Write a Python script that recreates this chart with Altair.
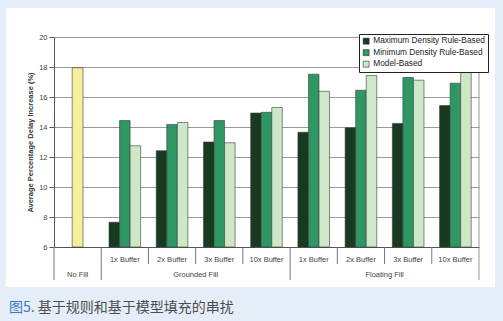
import altair as alt
import pandas as pd

FONT = "Liberation Sans"
CJK = "Noto Sans CJK SC"

series = ["Maximum Density Rule-Based", "Minimum Density Rule-Based", "Model-Based"]
groups = ["Grounded Fill"] * 4 + ["Floating Fill"] * 4
buffers = ["1x Buffer", "2x Buffer", "3x Buffer", "10x Buffer"] * 2
max_density = [7.65, 12.42, 13.0, 14.93, 13.65, 13.95, 14.24, 15.43]
min_density = [14.43, 14.17, 14.43, 14.98, 17.52, 16.45, 17.3, 16.92]
model_based = [12.75, 14.3, 12.95, 15.3, 16.38, 17.43, 17.12, 17.95]
no_fill_label = "No Fill"
no_fill_value = 17.95
y_ticks = [6, 8, 10, 12, 14, 16, 18, 20]
colors = ["#173a20", "#2e9763", "#cde8c7"]
no_fill_color = "#f5ef9c"
caption_num = "图5."
caption_text = "基于规则和基于模型填充的串扰"

keys = [no_fill_label] + [f"{g}|{b}" for g, b in zip(groups, buffers)]

rows = []
for i, (g, b) in enumerate(zip(groups, buffers)):
    for s, vals in zip(series, [max_density, min_density, model_based]):
        rows.append({"key": f"{g}|{b}", "series": s, "value": vals[i]})
bars_df = pd.DataFrame(rows)
nf_df = pd.DataFrame({"key": [no_fill_label], "value": [no_fill_value]})

xscale = alt.Scale(domain=keys, paddingInner=0, paddingOuter=0)
yscale = alt.Scale(domain=[6, 20], zero=False, nice=False)

x_axis = alt.Axis(
    title=None, ticks=False, labelAngle=0,
    labelExpr="indexof(datum.value,'|')>=0 ? split(datum.value,'|')[1] : ''",
    labelFont=FONT, labelFontSize=7.5, labelColor="#444", labelPadding=8,
    domainColor="#555", grid=False,
)
y_axis = alt.Axis(
    title="Average Percentage Delay Increase (%)", values=y_ticks,
    grid=True, gridColor="#9a9a9a", gridWidth=1,
    domainColor="#555", tickColor="#555", tickSize=5,
    labelFont=FONT, labelFontSize=7.5, labelColor="#444", labelPadding=2,
    titleFont=FONT, titleFontSize=7.5, titleFontWeight="bold", titleColor="#333",
    titlePadding=4,
)

legend = alt.Legend(
    title=None, orient="none", legendX=305, legendY=-3, direction="vertical",
    fillColor="white", strokeColor="#222", padding=3, cornerRadius=0,
    labelFont=FONT, labelFontSize=8.3, labelColor="#222", labelOffset=3,
    symbolType="square", symbolSize=36, symbolStrokeColor="#333",
    symbolStrokeWidth=0.6, rowPadding=1.5,
)

X = alt.X("key:N", scale=xscale, axis=x_axis)
Y = alt.Y("value:Q", scale=yscale, axis=y_axis)

bars = alt.Chart(bars_df).mark_bar(stroke="#3a3a3a", strokeWidth=0.6).encode(
    x=X,
    xOffset=alt.XOffset("series:N", scale=alt.Scale(domain=series, paddingInner=0, paddingOuter=0.74)),
    y=Y,
    y2=alt.datum(6),
    color=alt.Color("series:N", scale=alt.Scale(domain=series, range=colors), legend=legend),
)

nf = alt.Chart(nf_df).mark_bar(
    width=alt.RelativeBandSize(0.23), fill=no_fill_color, stroke="#3a3a3a", strokeWidth=0.6
).encode(x=X, y=Y, y2=alt.datum(6))

short_keys = [k for k in keys if k.split("|")[-1] != "1x Buffer" and k != no_fill_label]
long_keys = [no_fill_label, keys[1], keys[5]]

def xb(pos):
    return alt.X("key:N", scale=xscale, axis=x_axis, bandPosition=pos)

short_rules = alt.Chart(pd.DataFrame({"key": short_keys})).mark_rule(color="#777", strokeWidth=1).encode(
    x=xb(0), y=alt.value(210), y2=alt.value(227))
long_rules = alt.Chart(pd.DataFrame({"key": long_keys})).mark_rule(color="#777", strokeWidth=1).encode(
    x=xb(0), y=alt.value(210), y2=alt.value(243))
right_rule = alt.Chart(pd.DataFrame({"key": [keys[-1]]})).mark_rule(color="#999", strokeWidth=1).encode(
    x=xb(1), y=alt.value(0), y2=alt.value(243))

row2_nf = alt.Chart(pd.DataFrame({"key": [no_fill_label], "t": [no_fill_label]})).mark_text(
    font=FONT, fontSize=7.5, color="#444", align="center", baseline="middle").encode(
    x=xb(0.5), y=alt.value(238), text="t:N")
row2_groups = alt.Chart(pd.DataFrame({"key": [keys[3], keys[7]], "t": [groups[0], groups[4]]})).mark_text(
    font=FONT, fontSize=7.5, color="#444", align="center", baseline="middle").encode(
    x=xb(0), y=alt.value(238), text="t:N")

BLUE = "#e5eef8"
one = pd.DataFrame({"a": [0]})
def band(x, x2, y, y2):
    return alt.Chart(one).mark_rect(color=BLUE).encode(
        x=alt.value(x), x2=alt.value(x2), y=alt.value(y), y2=alt.value(y2))

frame = [band(-54, -48, -37, 284), band(441, 449, -37, 284),
         band(-54, 449, -37, -29), band(-54, 449, 250, 284)]

cap1 = alt.Chart(pd.DataFrame({"t": [caption_num]})).mark_text(
    font=CJK, fontSize=14, color="#3a7cc3", align="left", baseline="middle").encode(
    x=alt.value(-45), y=alt.value(271), text="t:N")
cap2 = alt.Chart(pd.DataFrame({"t": [caption_text]})).mark_text(
    font=CJK, fontSize=14, color="#4d4d4d", align="left", baseline="middle").encode(
    x=alt.value(-16.3), y=alt.value(271), text="t:N")

chart = alt.layer(
    bars, nf, short_rules, long_rules, right_rule, row2_nf, row2_groups, *frame, cap1, cap2
).properties(
    width=425, height=210, background="white",
    autosize=alt.AutoSizeParams(type="none"),
    padding={"left": 54, "top": 37, "right": 24, "bottom": 74},
).configure_view(stroke=None)

chart.save("out.html", embed_options={"renderer": "svg", "actions": False})
